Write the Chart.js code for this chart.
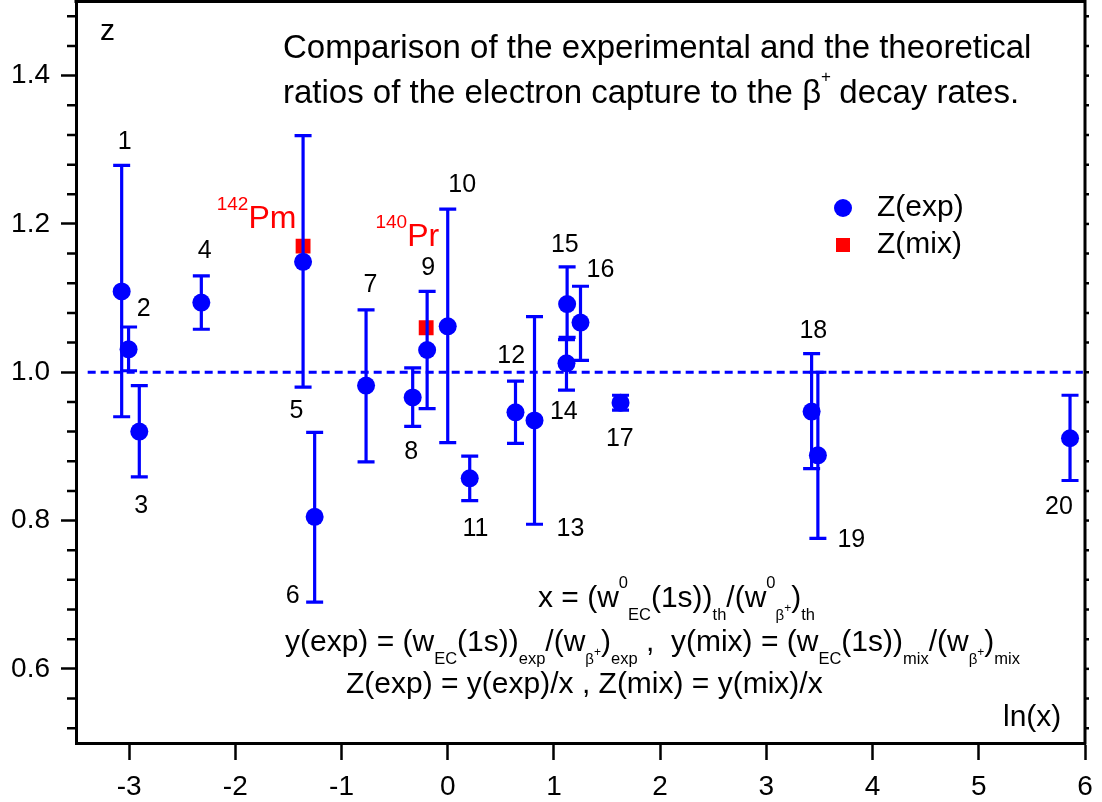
<!DOCTYPE html>
<html>
<head>
<meta charset="utf-8">
<script src="https://cdn.jsdelivr.net/npm/chart.js@4/dist/chart.umd.min.js"></script>
<style>
  html, body { margin: 0; padding: 0; background: #fff; }
  #chart { display: block; }
</style>
</head>
<body>
<canvas id="chart" width="1102" height="802"></canvas>
<script>
"use strict";

const FONT = '"Liberation Sans", Arial, Helvetica, sans-serif';

// Z(exp) points with error bars, numbered 1..20
const pointIds = ["1", "2", "3", "4", "5", "6", "7", "8", "9", "10", "11", "12", "13", "14", "15", "16", "17", "18", "19", "20"];
const lnX = [-3.07, -3.005, -2.904, -2.32, -1.362, -1.253, -0.769, -0.33, -0.194, 0.0, 0.207, 0.638, 0.817, 1.118, 1.124, 1.25, 1.627, 3.426, 3.485, 5.859];
const zExp = [1.109, 1.031, 0.92, 1.094, 1.149, 0.805, 0.982, 0.966, 1.03, 1.062, 0.857, 0.946, 0.935, 1.012, 1.092, 1.067, 0.959, 0.947, 0.888, 0.911];
const zLow = [0.94, 1.002, 0.859, 1.058, 0.98, 0.69, 0.879, 0.927, 0.951, 0.905, 0.827, 0.904, 0.795, 0.976, 1.047, 1.016, 0.949, 0.87, 0.776, 0.854];
const zHigh = [1.279, 1.061, 0.982, 1.13, 1.319, 0.919, 1.084, 1.006, 1.109, 1.22, 0.887, 0.988, 1.075, 1.044, 1.142, 1.116, 0.969, 1.025, 1.0, 0.969];

// Z(mix) points
const mixNuclide = ["Pm", "Pr"];
const mixMass = ["142", "140"];
const mixLnX = [-1.362, -0.203];
const zMix = [1.17, 1.06];

const xTicks = [-3, -2, -1, 0, 1, 2, 3, 4, 5, 6];
const yTicks = [0.6, 0.8, 1.0, 1.2, 1.4];

// where the number labels sit (data units, label centre)
const labelPos = [
    [-3.042, 1.31], [-2.863, 1.085], [-2.885, 0.82], [-2.289, 1.164], [-1.425, 0.947],
    [-1.46, 0.698], [-0.728, 1.117], [-0.345, 0.892], [-0.185, 1.141], [0.136, 1.252],
    [0.261, 0.788], [0.597, 1.022], [1.156, 0.788], [1.093, 0.946], [1.102, 1.172],
    [1.438, 1.138], [1.62, 0.91], [3.442, 1.055], [3.8, 0.774], [5.755, 0.818],
];
// left edge / baseline of the nuclide symbol
const mixLabelPos = [[-1.877, 1.1946], [-0.382, 1.17]];

const BLUE = "#0000ff";
const RED = "#ff0000";

function drawRich(ctx, x, y, parts, size) {
    ctx.textAlign = "left";
    ctx.textBaseline = "alphabetic";
    for (const [txt, kind] of parts) {
        let fs = size;
        let dy = 0;
        if (kind === "sub") { fs = size * 0.55; dy = size * 0.42; }
        else if (kind === "sup") { fs = size * 0.55; dy = -size * 0.62; }
        else if (kind === "bsub") { fs = size * 0.5; dy = size * 0.42; }
        else if (kind === "bsup") { fs = size * 0.4; dy = size * 0.18; }
        ctx.font = `${fs}px ${FONT}`;
        ctx.fillText(txt, x, y + dy);
        x += ctx.measureText(txt).width;
    }
}

const extras = {
    id: "extras",
    afterDatasetDraw(chart, args) {
        // error bars go above the red squares, below the blue circles
        if (args.index !== 1) return;
        const ctx = chart.ctx;
        const sx = chart.scales.x;
        const sy = chart.scales.y;
        ctx.save();
        ctx.strokeStyle = BLUE;
        ctx.lineWidth = 3.2;
        for (let i = 0; i < lnX.length; i++) {
            const px = sx.getPixelForValue(lnX[i]);
            const lo = sy.getPixelForValue(zLow[i]);
            const hi = sy.getPixelForValue(zHigh[i]);
            ctx.beginPath();
            ctx.moveTo(px, lo);
            ctx.lineTo(px, hi);
            ctx.moveTo(px - 8.5, lo);
            ctx.lineTo(px + 8.5, lo);
            ctx.moveTo(px - 8.5, hi);
            ctx.lineTo(px + 8.5, hi);
            ctx.stroke();
        }
        ctx.restore();
    },
    afterDraw(chart) {
        const ctx = chart.ctx;
        const a = chart.chartArea;
        const sx = chart.scales.x;
        const sy = chart.scales.y;
        ctx.save();

        // box: top and right sides
        ctx.strokeStyle = "#000";
        ctx.lineWidth = 3;
        ctx.beginPath();
        ctx.moveTo(a.left - 1.5, a.top);
        ctx.lineTo(a.right, a.top);
        ctx.lineTo(a.right, a.bottom + 1.5);
        ctx.stroke();

        // minor ticks on left and right
        ctx.lineWidth = 2.5;
        for (let i = 13; i <= 37; i++) {
            const py = sy.getPixelForValue(i * 0.04);
            ctx.beginPath();
            if (i % 5 !== 0) {
                ctx.moveTo(a.left - 9, py);
                ctx.lineTo(a.left, py);
            }
            ctx.moveTo(a.right, py);
            ctx.lineTo(a.right + 4, py);
            ctx.stroke();
        }

        // point numbers
        ctx.fillStyle = "#000";
        ctx.font = `25px ${FONT}`;
        ctx.textAlign = "center";
        ctx.textBaseline = "middle";
        labelPos.forEach((p, i) => {
            ctx.fillText(pointIds[i], sx.getPixelForValue(p[0]), sy.getPixelForValue(p[1]));
        });

        // nuclide labels for Z(mix)
        ctx.fillStyle = RED;
        ctx.textBaseline = "alphabetic";
        mixLabelPos.forEach((p, i) => {
            const px = sx.getPixelForValue(p[0]);
            const py = sy.getPixelForValue(p[1]);
            ctx.font = `32px ${FONT}`;
            ctx.textAlign = "left";
            ctx.fillText(mixNuclide[i], px, py);
            ctx.font = `19px ${FONT}`;
            ctx.textAlign = "right";
            ctx.fillText(mixMass[i], px, py - 18);
        });

        // axis names
        ctx.fillStyle = "#000";
        ctx.textAlign = "left";
        ctx.textBaseline = "alphabetic";
        ctx.font = `30px ${FONT}`;
        ctx.fillText("z", 100, 40);
        ctx.fillText("ln(x)", 1003, 726);

        // title
        ctx.font = `33px ${FONT}`;
        ctx.fillText("Comparison of the experimental and the theoretical", 283, 58);
        const t2 = "ratios of the electron capture to the \u03b2";
        ctx.fillText(t2, 283, 103);
        const w2 = ctx.measureText(t2).width;
        ctx.fillText(" decay rates.", 283 + w2 + 9, 103);
        ctx.font = `17px ${FONT}`;
        ctx.fillText("+", 283 + w2, 82);

        // legend
        const exp = chart.data.datasets[2];
        const mix = chart.data.datasets[1];
        ctx.fillStyle = exp.backgroundColor;
        ctx.beginPath();
        ctx.arc(843, 208, exp.pointRadius, 0, Math.PI * 2);
        ctx.fill();
        ctx.fillStyle = mix.backgroundColor;
        ctx.fillRect(836, 238, 14, 14);
        ctx.fillStyle = "#000";
        ctx.font = `30px ${FONT}`;
        ctx.textBaseline = "middle";
        ctx.fillText("Z(exp)", 877, 208);
        ctx.fillText("Z(mix)", 877, 245);

        // formulas
        drawRich(ctx, 538, 607, [
            ["x = (w", "n"], ["0", "sup"], ["EC", "sub"], ["(1s))", "n"], ["th", "sub"],
            ["/(w", "n"], ["0", "sup"], ["\u03b2", "bsub"], ["+", "bsup"], [")", "n"], ["th", "sub"],
        ], 30);
        drawRich(ctx, 285, 651, [
            ["y(exp) = (w", "n"], ["EC", "sub"], ["(1s))", "n"], ["exp", "sub"],
            ["/(w", "n"], ["\u03b2", "bsub"], ["+", "bsup"], [")", "n"], ["exp", "sub"],
            [" ,  y(mix) = (w", "n"], ["EC", "sub"], ["(1s))", "n"], ["mix", "sub"],
            ["/(w", "n"], ["\u03b2", "bsub"], ["+", "bsup"], [")", "n"], ["mix", "sub"],
        ], 30);
        drawRich(ctx, 346, 693, [["Z(exp) = y(exp)/x , Z(mix) = y(mix)/x", "n"]], 30);

        ctx.restore();
    },
};

new Chart(document.getElementById("chart"), {
    type: "scatter",
    data: {
        datasets: [
            {
                type: "line",
                data: [{ x: -3.39, y: 1 }, { x: 5.98, y: 1 }],
                borderColor: BLUE,
                borderWidth: 3,
                borderDash: [8, 5],
                pointRadius: 0,
                order: 3,
            },
            {
                label: "Z(mix)",
                data: mixLnX.map((v, i) => ({ x: v, y: zMix[i] })),
                pointStyle: "rect",
                pointRadius: 10.5,
                backgroundColor: RED,
                borderColor: RED,
                borderWidth: 0,
                order: 2,
            },
            {
                label: "Z(exp)",
                data: lnX.map((v, i) => ({ x: v, y: zExp[i] })),
                pointStyle: "circle",
                pointRadius: 9,
                backgroundColor: BLUE,
                borderColor: BLUE,
                borderWidth: 0,
                order: 1,
            },
        ],
    },
    options: {
        responsive: false,
        animation: false,
        events: [],
        layout: { autoPadding: false, padding: { top: 1.5, right: 17, left: 0, bottom: 0 } },
        plugins: {
            legend: { display: false },
            tooltip: { enabled: false },
        },
        scales: {
            x: {
                type: "linear",
                min: -3.5,
                max: 6,
                afterBuildTicks: (s) => { s.ticks = xTicks.map((v) => ({ value: v })); },
                afterFit: (s) => { s.height = 59; s.paddingLeft = 0; s.paddingRight = 0; },
                border: { display: true, width: 3, color: "#000" },
                grid: { drawOnChartArea: false, drawTicks: true, tickLength: 17, tickWidth: 2.5, tickColor: "#000" },
                ticks: {
                    color: "#000",
                    font: { size: 28, family: FONT },
                    padding: 10,
                    maxRotation: 0,
                    autoSkip: false,
                },
            },
            y: {
                type: "linear",
                min: 0.5,
                max: 1.5,
                afterBuildTicks: (s) => { s.ticks = yTicks.map((v) => ({ value: v })); },
                afterFit: (s) => { s.width = 76; s.paddingTop = 0; s.paddingBottom = 0; },
                border: { display: true, width: 3, color: "#000" },
                grid: { drawOnChartArea: false, drawTicks: true, tickLength: 15, tickWidth: 2.5, tickColor: "#000" },
                ticks: {
                    color: "#000",
                    font: { size: 28, family: FONT },
                    padding: 11,
                    callback: (v) => Number(v).toFixed(1),
                },
            },
        },
    },
    plugins: [extras],
});
</script>
</body>
</html>
